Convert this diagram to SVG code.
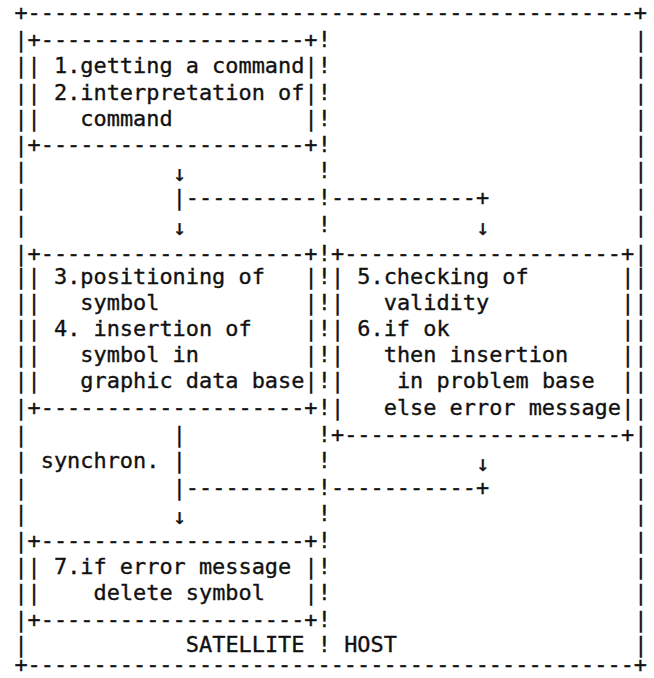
<svg xmlns="http://www.w3.org/2000/svg" width="654" height="678" viewBox="0 0 654 678">
<style>
text{font-family:"DejaVu Sans Mono","Liberation Mono",monospace;font-size:21.9px;fill:#111;stroke:#111;stroke-width:0.35;white-space:pre}
</style>
<rect width="654" height="678" fill="#fff"/>
<g id="frame">
<text x="14.4" y="20">+----------------------------------------------+</text>
<text x="14.4" y="672">+----------------------------------------------+</text>
<text x="14.4 14.4 14.4 14.4 14.4 14.4 14.4 14.4 14.4 14.4 14.4 14.4 14.4 14.4 14.4 14.4 14.4 14.4 14.4 14.4 14.4 14.4 14.4 14.4" y="46.5 73 99.5 125.5 152 178 205 232 261 284 310 336 362 388 415 442 468 495 521 548 574 600 627 652">||||||||||||||||||||||||</text>
<text x="634.33 634.33 634.33 634.33 634.33 634.33 634.33 634.33 634.33 634.33 634.33 634.33 634.33 634.33 634.33 634.33 634.33 634.33 634.33 634.33 634.33 634.33 634.33 634.33" y="46.5 73 99.5 125.5 152 178 205 232 261 284 310 336 362 388 415 442 468 495 521 548 574 600 627 652">||||||||||||||||||||||||</text>
</g>
<g id="divider">
<text x="317.77 317.77 317.77 317.77 317.77 317.77 317.77 317.77 317.77 317.77 317.77 317.77 317.77 317.77 317.77 317.77 317.77 317.77 317.77 317.77 317.77 317.77 317.77 317.77" y="46.5 73 99.5 125.5 152 178 205 232 261 284 310 336 362 388 415 442 468 495 521 548 574 600 627 652">!!!!!!!!!!!!!!!!!!!!!!!!</text>
<text x="185.87" y="652">SATELLITE</text>
<text x="344.15" y="652">HOST</text>
</g>
<g id="box1">
<text x="27.59" y="46.5">+--------------------+</text>
<text x="27.59" y="152">+--------------------+</text>
<text x="27.59 27.59 27.59" y="73 99.5 125.5">|||</text>
<text x="304.58 304.58 304.58" y="73 99.5 125.5">|||</text>
<text x="53.97" y="73">1.getting a command</text>
<text x="53.97" y="99.5">2.interpretation of</text>
<text x="80.35" y="125.5">command</text>
</g>
<g id="box3">
<text x="27.59" y="261">+--------------------+</text>
<text x="27.59" y="415">+--------------------+</text>
<text x="27.59 27.59 27.59 27.59 27.59" y="284 310 336 362 388">|||||</text>
<text x="304.58 304.58 304.58 304.58 304.58" y="284 310 336 362 388">|||||</text>
<text x="53.97" y="284">3.positioning of</text>
<text x="80.35" y="310">symbol</text>
<text x="53.97" y="336">4. insertion of</text>
<text x="80.35" y="362">symbol in</text>
<text x="80.35" y="388">graphic data base</text>
</g>
<g id="box5">
<text x="330.96" y="261">+---------------------+</text>
<text x="330.96" y="442">+---------------------+</text>
<text x="330.96 330.96 330.96 330.96 330.96 330.96" y="284 310 336 362 388 415">||||||</text>
<text x="621.14 621.14 621.14 621.14 621.14 621.14" y="284 310 336 362 388 415">||||||</text>
<text x="357.34" y="284">5.checking of</text>
<text x="383.72" y="310">validity</text>
<text x="357.34" y="336">6.if ok</text>
<text x="383.72" y="362">then insertion</text>
<text x="396.91" y="388">in problem base</text>
<text x="383.72" y="415">else error message</text>
</g>
<g id="box7">
<text x="27.59" y="548">+--------------------+</text>
<text x="27.59" y="627">+--------------------+</text>
<text x="27.59 27.59" y="574 600">||</text>
<text x="304.58 304.58" y="574 600">||</text>
<text x="53.97" y="574">7.if error message</text>
<text x="93.54" y="600">delete symbol</text>
</g>
<g id="connectors">
<text x="172.68" y="181">↓</text>
<text x="172.68" y="205">|----------</text>
<text x="330.96" y="205">-----------+</text>
<text x="172.68" y="235">↓</text>
<text x="476.05" y="235">↓</text>
<text x="172.68 172.68" y="442 468">||</text>
<text x="40.78" y="468">synchron.</text>
<text x="476.05" y="471">↓</text>
<text x="172.68" y="495">|----------</text>
<text x="330.96" y="495">-----------+</text>
<text x="172.68" y="524">↓</text>
</g>
</svg>
